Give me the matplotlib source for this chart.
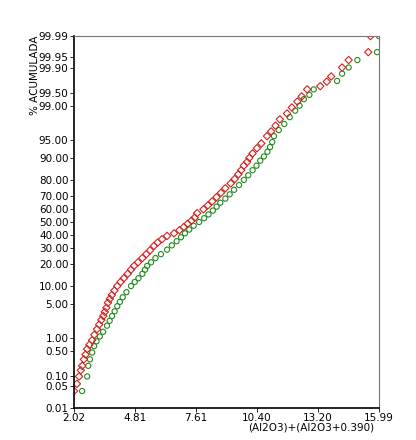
import numpy as np
import matplotlib
matplotlib.use("Agg")
import matplotlib.pyplot as plt
from statistics import NormalDist

# cumulative % vs value
red_pct = [0.036, 0.06, 0.1, 0.15, 0.2, 0.3, 0.4, 0.55, 0.7, 0.9, 1.2, 1.6, 2.0, 2.5, 3.0, 3.6, 4.3, 5.3,
           6.2, 7.2, 8.5, 10, 11.5, 13, 15, 17, 19, 21, 23.5, 26, 28.5, 31.6, 34, 36.5, 39, 41, 43.5, 46,
           48.5, 51, 53.5, 57, 60, 63, 66, 69, 72, 75, 78, 80.5, 83, 85, 87, 88.5, 90, 91.5, 93, 94.2,
           95.7, 96.5, 97.3, 98.0, 98.5, 98.9, 99.2, 99.4, 99.6, 99.67, 99.75, 99.82, 99.9, 99.94,
           99.966, 99.99]
red_x = [2.02, 2.15, 2.25, 2.33, 2.39, 2.47, 2.55, 2.62, 2.72, 2.85, 2.95, 3.07, 3.17, 3.27, 3.36, 3.43,
         3.5, 3.57, 3.66, 3.75, 3.87, 4.0, 4.15, 4.3, 4.48, 4.63, 4.77, 4.95, 5.15, 5.33, 5.5, 5.68,
         5.85, 6.05, 6.28, 6.6, 6.85, 7.05, 7.22, 7.4, 7.55, 7.66, 7.95, 8.15, 8.35, 8.55, 8.75, 8.95,
         9.2, 9.38, 9.55, 9.68, 9.8, 9.95, 10.05, 10.2, 10.4, 10.6, 10.86, 11.05, 11.25, 11.45, 11.78,
         12.0, 12.25, 12.45, 12.7, 13.3, 13.6, 13.8, 14.3, 14.6, 15.5, 15.6]
green_pct = [0.036, 0.1, 0.2, 0.3, 0.45, 0.65, 0.85, 1.1, 1.4, 1.9, 2.4, 3.0, 3.7, 4.6, 5.5, 6.6, 8.0, 10,
             11.5, 13, 15, 17, 19, 21, 23.5, 26, 29, 32, 35, 38, 41, 44, 47, 50, 53, 56, 59, 62, 65,
             68, 71, 74, 77, 80, 82.5, 85, 87, 89, 90.5, 92, 93.3, 94.5, 95.7, 96.7, 97.5, 98.2, 98.7,
             99.0, 99.3, 99.45, 99.6, 99.76, 99.85, 99.9, 99.94, 99.966, 99.99]
green_x = [2.39, 2.62, 2.67, 2.75, 2.85, 2.94, 3.05, 3.2, 3.35, 3.53, 3.65, 3.76, 3.88, 4.0, 4.12, 4.25,
           4.42, 4.63, 4.8, 4.97, 5.15, 5.27, 5.37, 5.55, 5.75, 6.0, 6.28, 6.5, 6.72, 6.92, 7.1, 7.3,
           7.5, 7.75, 7.98, 8.18, 8.38, 8.55, 8.72, 8.95, 9.15, 9.35, 9.58, 9.8, 10.0, 10.2, 10.38, 10.55,
           10.72, 10.88, 11.0, 11.1, 11.18, 11.4, 11.65, 11.9, 12.15, 12.35, 12.55, 12.8, 13.0, 14.07,
           14.3, 14.6, 15.0, 15.9, 15.99]

x_ticks = [2.02, 4.81, 7.61, 10.40, 13.20, 15.99]
y_ticks = [0.01, 0.05, 0.10, 0.50, 1.00, 5.00, 10.00, 20.00, 30.00, 40.00, 50.00, 60.00, 70.00,
           80.00, 90.00, 95.00, 99.00, 99.50, 99.90, 99.95, 99.99]

nd = NormalDist()
fwd = np.vectorize(lambda p: nd.inv_cdf(min(max(p, 1e-4), 99.9999) / 100.0), otypes=[float])
inv = np.vectorize(lambda z: nd.cdf(z) * 100.0, otypes=[float])

fig = plt.figure(figsize=(4.16, 4.4), dpi=100)
ax = fig.add_axes([0.178, 0.073, 0.733, 0.845])
ax.set_yscale("function", functions=(fwd, inv))

ax.scatter(green_x, green_pct, s=14, marker="o", facecolors="none", edgecolors="#1e8c1e", linewidths=0.8)
ax.scatter(red_x, red_pct, s=14, marker="D", facecolors="none", edgecolors="#d42020", linewidths=0.8)

ax.set_xlim(2.02, 15.99)
ax.set_ylim(0.01, 99.99)
ax.set_xticks(x_ticks)
ax.set_xticklabels([f"{t:.2f}" for t in x_ticks], fontsize=7.5)
ax.set_yticks(y_ticks)
ax.set_yticklabels([f"{t:.2f}" for t in y_ticks], fontsize=7.5)
ax.minorticks_off()
ax.tick_params(length=3, width=0.6, pad=1)

for s in ["left", "bottom"]:
    ax.spines[s].set_linewidth(1.2)
for s in ["top", "right"]:
    ax.spines[s].set_color("#777777")
    ax.spines[s].set_linewidth(0.8)

fig.text(0.90, 0.028, "(Al2O3)+(Al2O3+0.390)", ha="right", va="center", fontsize=7.5)
fig.text(0.085, 0.92, "% ACUMULADA", rotation=90, ha="center", va="top", fontsize=7.5)

fig.savefig("out.png", dpi=100)
